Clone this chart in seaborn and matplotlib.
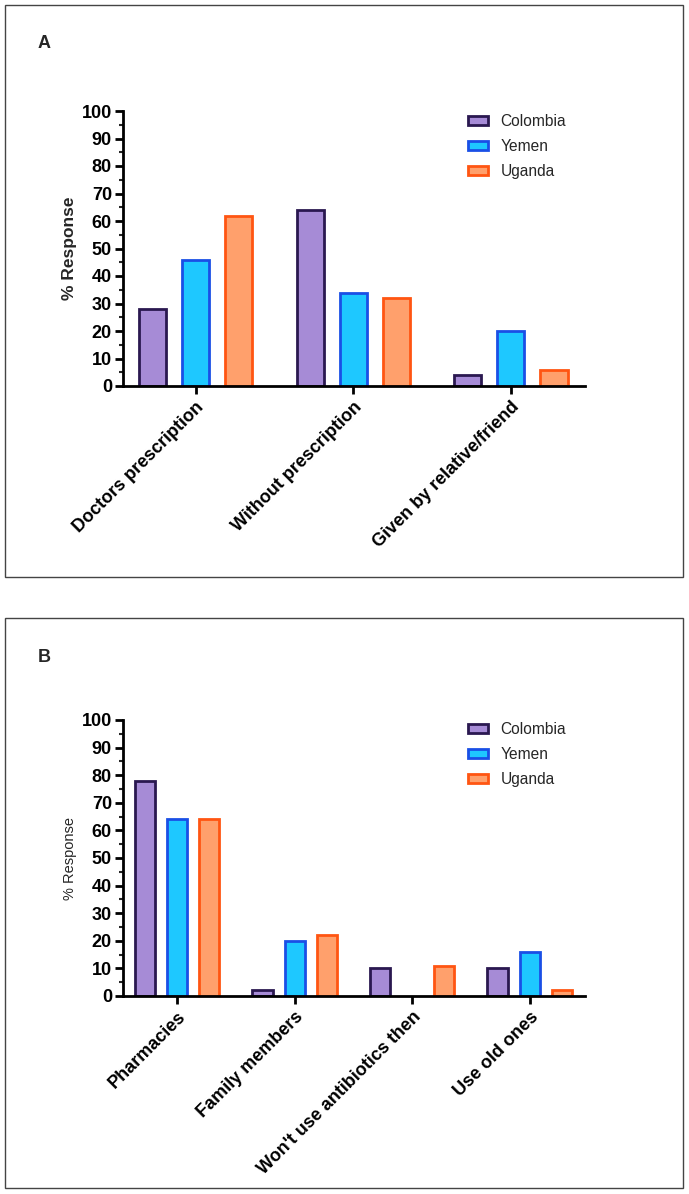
import pandas as pd
import numpy as np
import matplotlib
matplotlib.use("Agg")
import matplotlib.pyplot as plt
import seaborn as sns
from matplotlib.patches import Patch, Rectangle
from matplotlib.ticker import MultipleLocator

# --- data ---
countries = ['Colombia', 'Yemen', 'Uganda']

source_cats = ['Doctors prescription', 'Without prescription', 'Given by relative/friend']
source_colombia = [28, 64, 4]
source_yemen = [46, 34, 20]
source_uganda = [62, 32, 6]

refill_cats = ['Pharmacies', 'Family members', "Won't use antibiotics then", 'Use old ones']
refill_colombia = [78, 2, 10, 10]
refill_yemen = [64, 20, 0, 16]
refill_uganda = [64, 22, 11, 2]

fills = ['#A68BD6', '#1EC8FF', '#FFA06C']
edges = ['#2A1850', '#1A4FE6', '#FF5512']


def long_df(cats, cols):
    rows = []
    for country, vals in zip(countries, cols):
        for c, v in zip(cats, vals):
            rows.append({'Category': c, 'Country': country, 'Value': v})
    return pd.DataFrame(rows)


sns.set_theme(style="white")
plt.rcParams['font.family'] = ['Liberation Sans', 'DejaVu Sans']

W, H = 689, 1194
fig = plt.figure(figsize=(W / 100, H / 100), dpi=100)


def fx(px):
    return px / W


def fy(py):
    return 1 - py / H


def draw_panel(ax, df, cats, label_bold):
    sns.barplot(data=df, x='Category', y='Value', hue='Country', order=cats,
                hue_order=countries, palette=fills, width=0.82, gap=0.37,
                linewidth=2, ax=ax, legend=False, saturation=1)
    for cont, ec in zip(ax.containers, edges):
        for bar in cont:
            bar.set_edgecolor(ec)
            bar.set_linewidth(2)
            if bar.get_height() == 0:
                bar.set_visible(False)
    ax.set_ylim(0, 100)
    ax.set_xlim(-0.46, len(cats) - 0.53)
    ax.yaxis.set_major_locator(MultipleLocator(10))
    ax.yaxis.set_minor_locator(MultipleLocator(5))
    for s in ['top', 'right']:
        ax.spines[s].set_visible(False)
    for s in ['left', 'bottom']:
        ax.spines[s].set_linewidth(2)
        ax.spines[s].set_color('black')
    ax.tick_params(axis='y', which='major', direction='out', length=6, width=2,
                   left=True, pad=2, labelsize=13, colors='black')
    ax.tick_params(axis='y', which='minor', direction='out', length=3, width=1.5, left=True)
    ax.tick_params(axis='x', which='major', direction='out', length=6, width=2,
                   bottom=True, pad=3, colors='black')
    for t in ax.get_yticklabels():
        t.set_fontweight('bold')
    ax.set_xticks(range(len(cats)))
    ax.set_xticklabels(cats, rotation=45, ha='right', rotation_mode='anchor',
                       fontweight='bold', fontsize=13)
    ax.set_xlabel('')
    ax.set_ylabel('% Response', fontsize=12.5 if label_bold else 10.5,
                  fontweight='bold' if label_bold else 'normal', labelpad=3)
    ax.grid(False)


handles = [Patch(facecolor=f, edgecolor=e, linewidth=2) for f, e in zip(fills, edges)]
leg_kw = dict(loc='upper left', frameon=False, fontsize=11.2, handlelength=1.3,
              handleheight=0.55, handletextpad=0.8, labelspacing=0.65,
              borderpad=0, borderaxespad=0)

# panel A
axA = fig.add_axes([fx(123), fy(386), fx(585 - 123), (386 - 111) / H])
draw_panel(axA, long_df(source_cats, [source_colombia, source_yemen, source_uganda]), source_cats, True)
fig.legend(handles, countries, bbox_to_anchor=(fx(468), fy(114)), **leg_kw)

# panel B
axB = fig.add_axes([fx(123), fy(996), fx(585 - 123), (996 - 720) / H])
draw_panel(axB, long_df(refill_cats, [refill_colombia, refill_yemen, refill_uganda]), refill_cats, False)
fig.legend(handles, countries, bbox_to_anchor=(fx(468), fy(722)), **leg_kw)

# panel frames and letters
fig.add_artist(Rectangle((fx(5), fy(577)), fx(678), 572 / H, transform=fig.transFigure,
                         fill=False, edgecolor='#444444', linewidth=1))
fig.add_artist(Rectangle((fx(5), fy(1188)), fx(678), 570 / H, transform=fig.transFigure,
                         fill=False, edgecolor='#444444', linewidth=1))
fig.text(fx(38), fy(44), 'A', fontsize=13, fontweight='bold', va='center', ha='left')
fig.text(fx(38), fy(657), 'B', fontsize=13, fontweight='bold', va='center', ha='left')

fig.savefig('out.png', dpi=100)
